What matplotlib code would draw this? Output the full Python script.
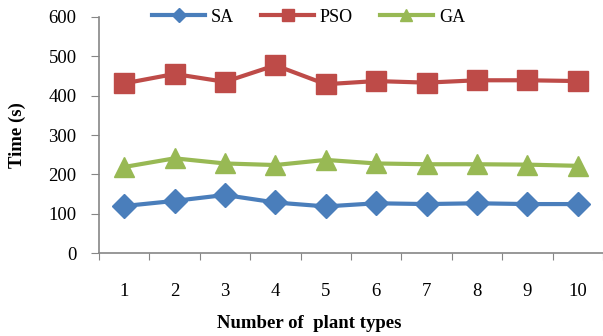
import matplotlib.pyplot as plt
import numpy as np

plt.rcParams['font.family'] = ['Liberation Serif', 'DejaVu Serif']

# data
plant_types = [1, 2, 3, 4, 5, 6, 7, 8, 9, 10]
sa_time = [120, 133, 148, 129, 119, 127, 125, 127, 125, 125]
pso_time = [431, 455, 435, 477, 429, 437, 433, 439, 439, 437]
ga_time = [219, 241, 228, 224, 237, 228, 226, 226, 225, 222]
y_ticks = [0, 100, 200, 300, 400, 500, 600]

fig = plt.figure(figsize=(6.03, 3.36), dpi=100)
ax = fig.add_axes([0.164, 0.246, 0.836, 0.704])

grey = '#868686'
ax.plot(plant_types, sa_time, color='#4A7EBB', lw=3, marker='D', ms=12,
        label='SA')
ax.plot(plant_types, pso_time, color='#BE4B48', lw=3, marker='s', ms=14,
        label='PSO')
ax.plot(plant_types, ga_time, color='#98B954', lw=3, marker='^', ms=15,
        label='GA')

ax.set_ylim(0, 600)
ax.set_yticks(y_ticks)
ax.set_xlim(0.5, 10.5)
ax.set_xticks(np.arange(0.5, 11, 1))
ax.set_xticklabels([])
ax.set_xticks(plant_types, minor=True)
ax.set_xticklabels([str(p) for p in plant_types], minor=True)

for s in ['top', 'right']:
    ax.spines[s].set_visible(False)
for s in ['left', 'bottom']:
    ax.spines[s].set_color(grey)
    ax.spines[s].set_linewidth(1.2)

ax.tick_params(axis='y', which='major', direction='out', length=6,
               color=grey, labelsize=13.5, pad=10)
ax.tick_params(axis='x', which='major', direction='out', length=5,
               color=grey)
ax.tick_params(axis='x', which='minor', length=0, labelsize=13.5, pad=21)

ax.set_ylabel('Time (s)', fontsize=13.5, fontweight='bold')
ax.yaxis.set_label_coords(-0.145, 0.5)
ax.set_xlabel('Number of  plant types', fontsize=13.5, fontweight='bold')
ax.xaxis.set_label_coords(0.417, -0.26)

fig.legend(loc='center', bbox_to_anchor=(0.512, 0.949), ncol=3,
           frameon=False, fontsize=13, handlelength=2.9, markerscale=0.6,
           handletextpad=0.35, columnspacing=1.5)

fig.savefig('out.png', dpi=100)
